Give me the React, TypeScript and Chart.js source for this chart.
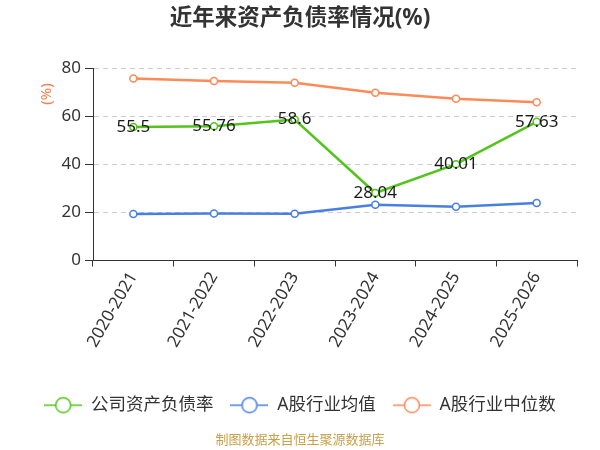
import React, { useEffect, useRef } from 'react';
import { Chart, registerables } from 'chart.js';

Chart.register(...registerables);

const categories = ['2020-2021', '2021-2022', '2022-2023', '2023-2024', '2024-2025', '2025-2026'];
const companyRatio = [55.5, 55.76, 58.6, 28.04, 40.01, 57.63];
const industryAvg = [19.3, 19.5, 19.4, 23.2, 22.3, 23.9];
const industryMedian = [75.6, 74.6, 73.9, 69.7, 67.2, 65.8];
const seriesNames = ['公司资产负债率', 'A股行业均值', 'A股行业中位数'];
const seriesColors = ['#52c41a', '#4a7fe2', '#fd8a57'];

const FONT = '"Noto Sans", "Noto Sans CJK SC", sans-serif';

// legend marker: a short line with a hollow circle on it
const makeMarker = (color: string) => {
    const c = document.createElement('canvas');
    c.width = 38;
    c.height = 18;
    const ctx = c.getContext('2d');
    if (ctx) {
        ctx.strokeStyle = color;
        ctx.lineWidth = 1.5;
        ctx.beginPath();
        ctx.moveTo(0, 9);
        ctx.lineTo(38, 9);
        ctx.stroke();
        ctx.beginPath();
        ctx.arc(19, 9, 7.5, 0, Math.PI * 2);
        ctx.fillStyle = '#fff';
        ctx.fill();
        ctx.stroke();
    }
    return c;
};

const extrasPlugin = {
    id: 'extras',
    afterDatasetsDraw(chart: any) {
        const ctx = chart.ctx;
        const meta = chart.getDatasetMeta(0);
        ctx.save();
        ctx.font = `17px ${FONT}`;
        ctx.fillStyle = '#1a1a1a';
        ctx.textAlign = 'center';
        ctx.textBaseline = 'middle';
        meta.data.forEach((pt: any, i: number) => {
            ctx.fillText(String(companyRatio[i]), pt.x, pt.y);
        });
        ctx.restore();
    },
    afterDraw(chart: any) {
        const ctx = chart.ctx;
        ctx.save();
        ctx.font = `15px ${FONT}`;
        ctx.fillStyle = '#f4804f';
        ctx.textAlign = 'center';
        ctx.textBaseline = 'middle';
        ctx.translate(47, 94);
        ctx.rotate(-Math.PI / 2);
        ctx.fillText('(%)', 0, 0);
        ctx.restore();

        ctx.save();
        ctx.font = `13px ${FONT}`;
        ctx.fillStyle = '#c9a046';
        ctx.textAlign = 'center';
        ctx.textBaseline = 'middle';
        ctx.fillText('制图数据来自恒生聚源数据库', 300, 440);
        ctx.restore();
    }
};

const LineChart = () => {
    const chartRef = useRef<HTMLCanvasElement>(null);
    const chartInstance = useRef<Chart | null>(null);

    useEffect(() => {
        document.body.style.margin = '0';
        if (!chartRef.current) return;
        const ctx = chartRef.current.getContext('2d');
        if (!ctx) return;
        if (chartInstance.current) chartInstance.current.destroy();

        const markers = seriesColors.map(makeMarker);
        const values = [companyRatio, industryAvg, industryMedian];

        chartInstance.current = new Chart(ctx, {
            type: 'line',
            data: {
                labels: categories,
                datasets: values.map((v, i) => ({
                    label: seriesNames[i],
                    data: v,
                    borderColor: seriesColors[i],
                    backgroundColor: '#fff',
                    borderWidth: 2.5,
                    pointRadius: 3.5,
                    pointBorderWidth: 1.5,
                    pointBackgroundColor: '#fff',
                    pointBorderColor: seriesColors[i],
                    tension: 0,
                    order: 2 - i
                }))
            },
            options: {
                responsive: false,
                animation: false,
                layout: { padding: { left: 0, right: 0, top: 0, bottom: 26 } },
                plugins: {
                    title: {
                        display: true,
                        text: '近年来资产负债率情况(%)',
                        color: '#333',
                        font: { family: FONT, size: 22.5, weight: 'bold' },
                        padding: { top: 5, bottom: 36 }
                    },
                    legend: {
                        position: 'bottom',
                        labels: {
                            usePointStyle: true,
                            pointStyleWidth: 38,
                            boxHeight: 18,
                            padding: 17,
                            color: '#333',
                            font: { family: FONT, size: 17.5 },
                            generateLabels: (chart: any) => {
                                const items = Chart.defaults.plugins.legend.labels.generateLabels(chart);
                                return items
                                    .sort((a: any, b: any) => a.datasetIndex - b.datasetIndex)
                                    .map((it: any) => ({ ...it, pointStyle: markers[it.datasetIndex] }));
                            }
                        }
                    },
                    tooltip: { enabled: false }
                },
                scales: {
                    x: {
                        offset: true,
                        grid: {
                            offset: true,
                            drawOnChartArea: false,
                            tickColor: '#333',
                            tickLength: 6
                        },
                        border: { color: '#333', width: 1 },
                        ticks: {
                            color: '#333',
                            font: { family: FONT, size: 17 },
                            minRotation: 60,
                            maxRotation: 60,
                            padding: 2
                        },
                        afterFit: (scale: any) => {
                            scale.height = 119;
                        }
                    },
                    y: {
                        min: 0,
                        max: 80,
                        ticks: {
                            stepSize: 20,
                            color: '#333',
                            font: { family: FONT, size: 17 },
                            padding: 4
                        },
                        grid: {
                            color: '#cccccc',
                            lineWidth: 1,
                            tickColor: '#333',
                            tickLength: 8,
                            tickBorderDash: []
                        } as any,
                        border: { color: '#333', width: 1, dash: [5, 4] } as any,
                        afterFit: (scale: any) => {
                            scale.width = 93;
                        }
                    },
                    // empty axis that only keeps the right-hand margin
                    yRight: {
                        position: 'right',
                        display: true,
                        min: 0,
                        max: 80,
                        ticks: { display: false },
                        grid: { display: false, drawOnChartArea: false },
                        border: { display: false },
                        afterFit: (scale: any) => {
                            scale.width = 23;
                        }
                    }
                }
            },
            plugins: [extrasPlugin]
        });

        return () => {
            if (chartInstance.current) {
                chartInstance.current.destroy();
                chartInstance.current = null;
            }
        };
    }, []);

    return (
        <div style={{ width: 600, height: 450, position: 'relative', background: '#fff' }}>
            <canvas ref={chartRef} width={600} height={450} style={{ width: 600, height: 450 }}></canvas>
        </div>
    );
};

export default function App() {
    return <LineChart />;
}
